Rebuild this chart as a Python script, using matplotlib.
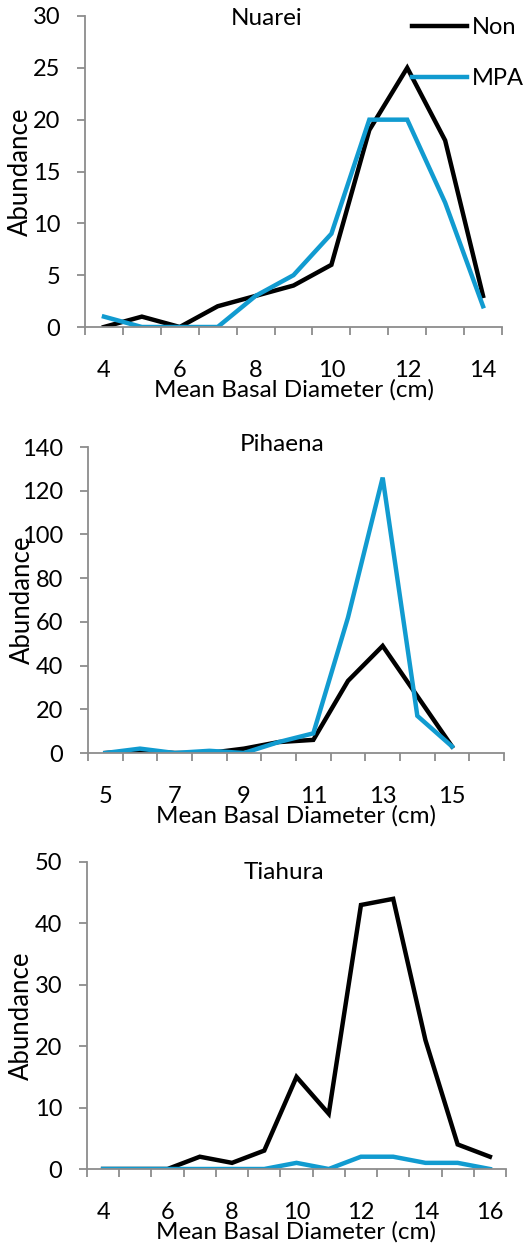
import numpy as np
import matplotlib
matplotlib.use('Agg')
import matplotlib.pyplot as plt

plt.rcParams['font.family'] = ['Lato', 'DejaVu Sans']

# Nuarei
nuarei_sizes = [4, 5, 6, 7, 8, 9, 10, 11, 12, 13, 14]
nuarei_non = [0, 1, 0, 2, 3, 4, 6, 19, 25, 18, 3]
nuarei_mpa = [1, 0, 0, 0, 3, 5, 9, 20, 20, 12, 2]

# Pihaena (category 16 is empty)
pihaena_sizes = [5, 6, 7, 8, 9, 10, 11, 12, 13, 14, 15, 16]
pihaena_non = [0, 1, 0, 0, 2, 5, 6, 33, 49, 26, 3]
pihaena_mpa = [0, 2, 0, 1, 0, 5, 9, 62, 126, 17, 3]

# Tiahura
tiahura_sizes = [4, 5, 6, 7, 8, 9, 10, 11, 12, 13, 14, 15, 16]
tiahura_non = [0, 0, 0, 2, 1, 3, 15, 9, 43, 44, 21, 4, 2]
tiahura_mpa = [0, 0, 0, 0, 0, 0, 1, 0, 2, 2, 1, 1, 0]

BLUE = '#119bd0'
GREY = '#8c8c8c'
W, H = 523.0, 1247.0

fig = plt.figure(figsize=(W / 100, H / 100), dpi=100)


def panel(box, title, title_xy, ylab_x, sizes, non, mpa, ymax, ystep, legend=False):
    left, top, right, bottom = box
    ax = fig.add_axes([left / W, 1 - bottom / H, (right - left) / W, (bottom - top) / H])
    n = len(sizes)
    ax.plot(np.arange(len(non)), non, color='black', lw=3.2, label='Non',
            solid_joinstyle='miter')
    ax.plot(np.arange(len(mpa)), mpa, color=BLUE, lw=3.2, label='MPA',
            solid_joinstyle='miter')
    ax.set_xlim(-0.5, n - 0.5)
    ax.set_ylim(0, ymax)
    ax.set_yticks(np.arange(0, ymax + 1, ystep))
    ax.set_xticks(np.arange(0, n, 2))
    ax.set_xticklabels([str(s) for s in sizes[::2]])
    ax.set_xticks(np.arange(-0.5, n, 1), minor=True)
    ax.tick_params(axis='x', which='major', length=0, pad=24, labelsize=17)
    ax.tick_params(axis='x', which='minor', length=5.8, width=1.3, color=GREY,
                   direction='out')
    ax.tick_params(axis='y', length=5.8, width=1.3, color=GREY, labelsize=17, pad=12)
    for s in ['top', 'right']:
        ax.spines[s].set_visible(False)
    for s in ['left', 'bottom']:
        ax.spines[s].set_color(GREY)
        ax.spines[s].set_linewidth(1.3)

    # x label: baseline ~70 px below the axis
    ax.set_xlabel('Mean Basal Diameter (cm)', fontsize=17.5, va='baseline')
    ax.xaxis.set_label_coords(0.5, -70.0 / (bottom - top))
    # y label centred at a fixed x, may overlap tick labels like the original
    ax.set_ylabel('Abundance', fontsize=18.5, va='center')
    ax.yaxis.set_label_coords((ylab_x - left) / (right - left), 0.5)

    fig.text(title_xy[0] / W, 1 - title_xy[1] / H, title, ha='center',
             va='baseline', fontsize=17.5)
    if legend:
        fig.legend(loc='upper left', bbox_to_anchor=(403 / W, 1 - 8 / H),
                   frameon=False, fontsize=17, handlelength=2.33,
                   handletextpad=0.2, labelspacing=1.25, borderaxespad=0)
    return ax


panel((85, 16, 502, 327), 'Nuarei', (267, 25), 20,
      nuarei_sizes, nuarei_non, nuarei_mpa, 30, 5, legend=True)
panel((88, 447, 504, 753), 'Pihaena', (282, 451), 22,
      pihaena_sizes, pihaena_non, pihaena_mpa, 140, 20)
panel((87, 862, 506, 1169), 'Tiahura', (284, 879), 21,
      tiahura_sizes, tiahura_non, tiahura_mpa, 50, 10)

plt.savefig('out.png', dpi=100)
